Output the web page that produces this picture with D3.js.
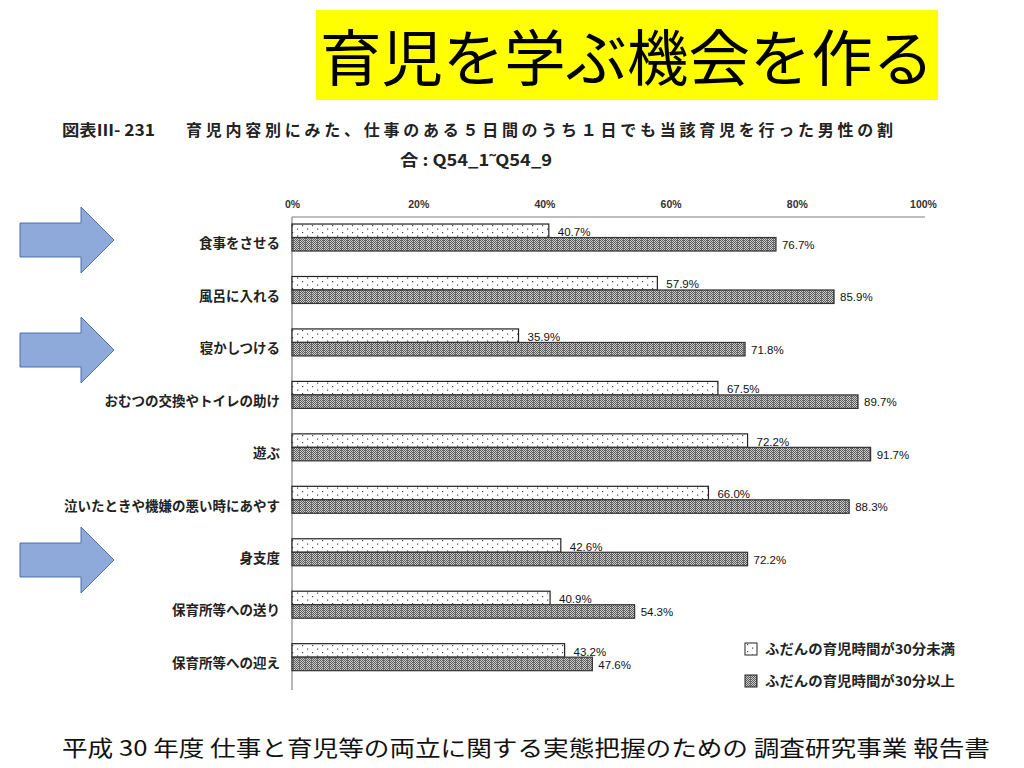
<!DOCTYPE html>
<html>
<head>
<meta charset="utf-8">
<script src="https://cdn.jsdelivr.net/npm/d3@7"></script>
<style>
  body { margin: 0; background: #fff; }
  svg { display: block; }
  text { font-family: "Liberation Sans", "Noto Sans CJK JP", sans-serif; }
  .jp { font-family: "Noto Sans CJK JP", sans-serif; }
</style>
</head>
<body>
<svg id="chart" width="1024" height="768"></svg>
<script>
// data
const categories = [
  '食事をさせる', '風呂に入れる', '寝かしつける', 'おむつの交換やトイレの助け', '遊ぶ',
  '泣いたときや機嫌の悪い時にあやす', '身支度', '保育所等への送り', '保育所等への迎え'
];
const under30 = [40.7, 57.9, 35.9, 67.5, 72.2, 66.0, 42.6, 40.9, 43.2];
const over30 = [76.7, 85.9, 71.8, 89.7, 91.7, 88.3, 72.2, 54.3, 47.6];
const seriesNames = ['ふだんの育児時間が30分未満', 'ふだんの育児時間が30分以上'];
const xTicks = [0, 20, 40, 60, 80, 100];
const arrowCenters = [240, 350, 560];

const svg = d3.select('#chart');

// patterns
const defs = svg.append('defs');
const dots = defs.append('pattern').attr('id', 'dots')
  .attr('patternUnits', 'userSpaceOnUse').attr('width', 10).attr('height', 7);
dots.append('rect').attr('width', 10).attr('height', 7).attr('fill', '#fff');
dots.append('rect').attr('x', 2).attr('y', 1).attr('width', 1.2).attr('height', 1.2).attr('fill', '#444');
dots.append('rect').attr('x', 7).attr('y', 4.5).attr('width', 1.2).attr('height', 1.2).attr('fill', '#444');

const grid = defs.append('pattern').attr('id', 'grid')
  .attr('patternUnits', 'userSpaceOnUse').attr('width', 6).attr('height', 2);
grid.append('rect').attr('width', 6).attr('height', 2).attr('fill', '#cdcdcd');
[[0, 0], [1, 1], [2, 0], [3, 1], [4, 0]].forEach(([px, py]) => {
  grid.append('rect').attr('x', px).attr('y', py).attr('width', 1).attr('height', 1).attr('fill', '#5a5a5a');
});
grid.append('rect').attr('x', 5).attr('y', 0).attr('width', 1).attr('height', 2).attr('fill', '#6a6a6a');

// headline box
svg.append('rect').attr('x', 316).attr('y', 10).attr('width', 622).attr('height', 90).attr('fill', '#ffff00');
svg.append('text').attr('class', 'jp')
  .attr('x', 320).attr('y', 81)
  .attr('textLength', 614).attr('lengthAdjust', 'spacingAndGlyphs')
  .attr('font-size', 61).attr('fill', '#000')
  .text('育児を学ぶ機会を作る');

// chart caption
svg.append('text').attr('class', 'jp').attr('x', 62).attr('y', 136)
  .attr('textLength', 93).attr('lengthAdjust', 'spacingAndGlyphs')
  .attr('font-size', 16).attr('font-weight', 'bold').attr('fill', '#222')
  .text('図表Ⅲ- 231');
svg.append('text').attr('class', 'jp').attr('x', 186).attr('y', 136)
  .attr('textLength', 707).attr('lengthAdjust', 'spacing')
  .attr('font-size', 16).attr('font-weight', 'bold').attr('fill', '#222')
  .text('育児内容別にみた、仕事のある５日間のうち１日でも当該育児を行った男性の割');
svg.append('text').attr('class', 'jp').attr('x', 400).attr('y', 166)
  .attr('textLength', 152).attr('lengthAdjust', 'spacingAndGlyphs')
  .attr('font-size', 16).attr('font-weight', 'bold').attr('fill', '#222')
  .text('合 : Q54_1˜Q54_9');

// scales
const x = d3.scaleLinear().domain([0, 100]).range([292, 923]);
const y = d3.scaleBand().domain(categories).range([211.3, 683.4]);
const barH = 13.5;

// top axis
const xAxis = svg.append('g')
  .attr('transform', 'translate(0,217)')
  .call(d3.axisTop(x).tickValues(xTicks).tickFormat(d => d + '%').tickSize(0).tickPadding(9));
xAxis.select('.domain').attr('stroke', '#aaa').attr('stroke-width', 1.5)
  .attr('d', `M${x(0)},0H${x(100) + 2}`);
xAxis.selectAll('text').attr('font-size', 10.5).attr('font-weight', 'bold')
  .attr('fill', '#333').attr('font-family', '"Liberation Sans", sans-serif');

// left axis line
svg.append('line')
  .attr('x1', x(0)).attr('x2', x(0)).attr('y1', 217).attr('y2', 690)
  .attr('stroke', '#888').attr('stroke-width', 1.2);

// category labels
svg.append('g').selectAll('text')
  .data(categories)
  .join('text')
  .attr('class', 'jp')
  .attr('x', 280)
  .attr('y', d => y(d) + y.bandwidth() / 2 + 6)
  .attr('dy', '0.35em')
  .attr('text-anchor', 'end')
  .attr('font-size', 13.5).attr('font-weight', 'bold').attr('fill', '#222')
  .text(d => d);

// bars
const rows = categories.map((c, i) => ({ cat: c, a: under30[i], b: over30[i] }));
const g = svg.append('g');
g.selectAll('rect.a').data(rows).join('rect').attr('class', 'a')
  .attr('x', x(0))
  .attr('y', d => y(d.cat) + y.bandwidth() / 2 - barH)
  .attr('width', d => x(d.a) - x(0))
  .attr('height', barH)
  .attr('fill', 'url(#dots)').attr('stroke', '#222').attr('stroke-width', 1.2);
g.selectAll('rect.b').data(rows).join('rect').attr('class', 'b')
  .attr('x', x(0))
  .attr('y', d => y(d.cat) + y.bandwidth() / 2)
  .attr('width', d => x(d.b) - x(0))
  .attr('height', barH)
  .attr('fill', 'url(#grid)').attr('stroke', '#333').attr('stroke-width', 1.2);

// value labels
g.selectAll('text.a').data(rows).join('text').attr('class', 'a')
  .attr('x', d => x(d.a) + 9)
  .attr('y', d => y(d.cat) + y.bandwidth() / 2 - 1.5)
  .attr('font-size', 11.5).attr('fill', '#111')
  .text(d => d.a.toFixed(1) + '%');
g.selectAll('text.b').data(rows).join('text').attr('class', 'b')
  .attr('x', d => x(d.b) + 6)
  .attr('y', d => y(d.cat) + y.bandwidth() / 2 + 11.5)
  .attr('font-size', 11.5).attr('fill', '#111')
  .text(d => d.b.toFixed(1) + '%');

// legend
const legend = svg.append('g').attr('transform', 'translate(745,643)');
seriesNames.forEach((name, i) => {
  const row = legend.append('g').attr('transform', `translate(0,${i * 32})`);
  row.append('rect').attr('width', 12).attr('height', 12)
    .attr('fill', i === 0 ? 'url(#dots)' : 'url(#grid)').attr('stroke', '#222');
  row.append('text').attr('class', 'jp').attr('x', 20).attr('y', 6).attr('dy', '0.35em')
    .attr('textLength', 190).attr('lengthAdjust', 'spacingAndGlyphs')
    .attr('font-size', 13.5).attr('font-weight', 'bold').attr('fill', '#222')
    .text(name);
});

// arrows
const arrow = d3.line();
svg.append('g').selectAll('path')
  .data(arrowCenters)
  .join('path')
  .attr('d', c => arrow([[20, c - 17], [81, c - 17], [81, c - 33], [114, c], [81, c + 33], [81, c + 17], [20, c + 17]]) + 'Z')
  .attr('fill', '#8eaadb').attr('stroke', '#4f6fa8').attr('stroke-width', 1);

// source
svg.append('text').attr('class', 'jp')
  .attr('x', 62).attr('y', 756)
  .attr('textLength', 928).attr('lengthAdjust', 'spacingAndGlyphs')
  .attr('font-size', 22).attr('fill', '#111')
  .text('平成 30 年度 仕事と育児等の両立に関する実態把握のための 調査研究事業 報告書');
</script>
</body>
</html>
